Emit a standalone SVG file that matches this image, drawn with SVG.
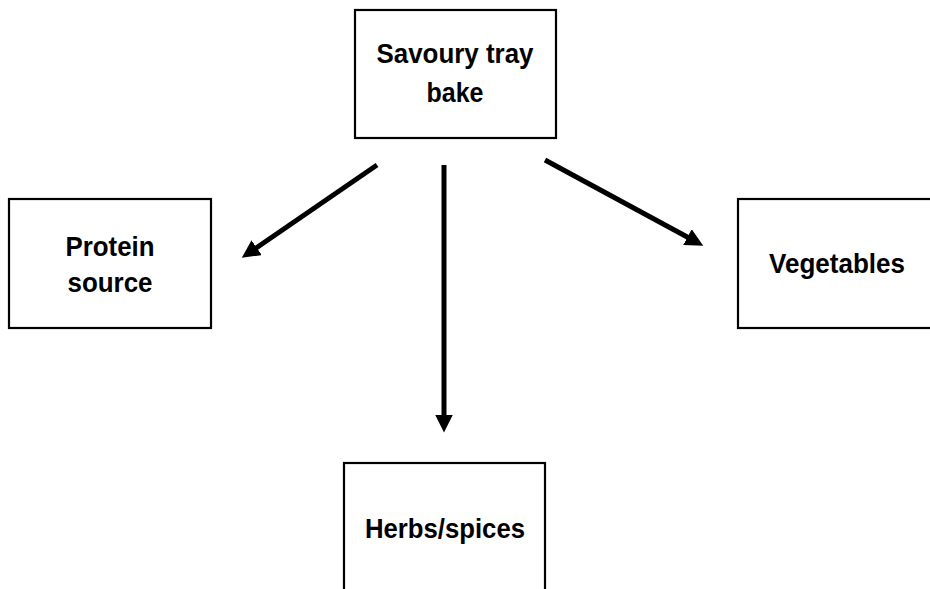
<svg xmlns="http://www.w3.org/2000/svg" width="930" height="589" viewBox="0 0 930 589">
<style>
.box{fill:#fff;stroke:#000;stroke-width:2.2}
.lbl{font-family:"Liberation Sans",Arial,sans-serif;font-weight:bold;font-size:28px;fill:#000;text-anchor:middle}
.conn{stroke:#000;stroke-width:5;fill:none}
</style>
<defs>
<marker id="ah" markerUnits="userSpaceOnUse" markerWidth="18" markerHeight="18" refX="4" refY="8" orient="auto" viewBox="0 0 16 16">
<path d="M0,0 L16,8 L0,16 z" fill="#000"/>
</marker>
</defs>
<rect width="930" height="589" fill="#fff"/>
<g id="main">
<rect class="box" x="355" y="10" width="201" height="128"/>
<text class="lbl" x="455" y="63" textLength="157" lengthAdjust="spacingAndGlyphs">Savoury tray</text>
<text class="lbl" x="455" y="102" textLength="57" lengthAdjust="spacingAndGlyphs">bake</text>
</g>
<g id="protein">
<rect class="box" x="9" y="199" width="202" height="129"/>
<text class="lbl" x="110" y="256" textLength="89" lengthAdjust="spacingAndGlyphs">Protein</text>
<text class="lbl" x="110" y="292" textLength="85" lengthAdjust="spacingAndGlyphs">source</text>
</g>
<g id="vegetables">
<rect class="box" x="738" y="199" width="200" height="129"/>
<text class="lbl" x="837" y="273" textLength="136" lengthAdjust="spacingAndGlyphs">Vegetables</text>
</g>
<g id="herbs">
<rect class="box" x="344" y="463" width="201" height="140"/>
<text class="lbl" x="445" y="538" textLength="160" lengthAdjust="spacingAndGlyphs">Herbs/spices</text>
</g>
<g id="connectors">
<line class="conn" x1="377" y1="165" x2="252.9" y2="250.2" marker-end="url(#ah)"/>
<line class="conn" x1="444" y1="165" x2="444" y2="419" marker-end="url(#ah)"/>
<line class="conn" x1="545" y1="160" x2="691.4" y2="239.3" marker-end="url(#ah)"/>
</g>
</svg>
